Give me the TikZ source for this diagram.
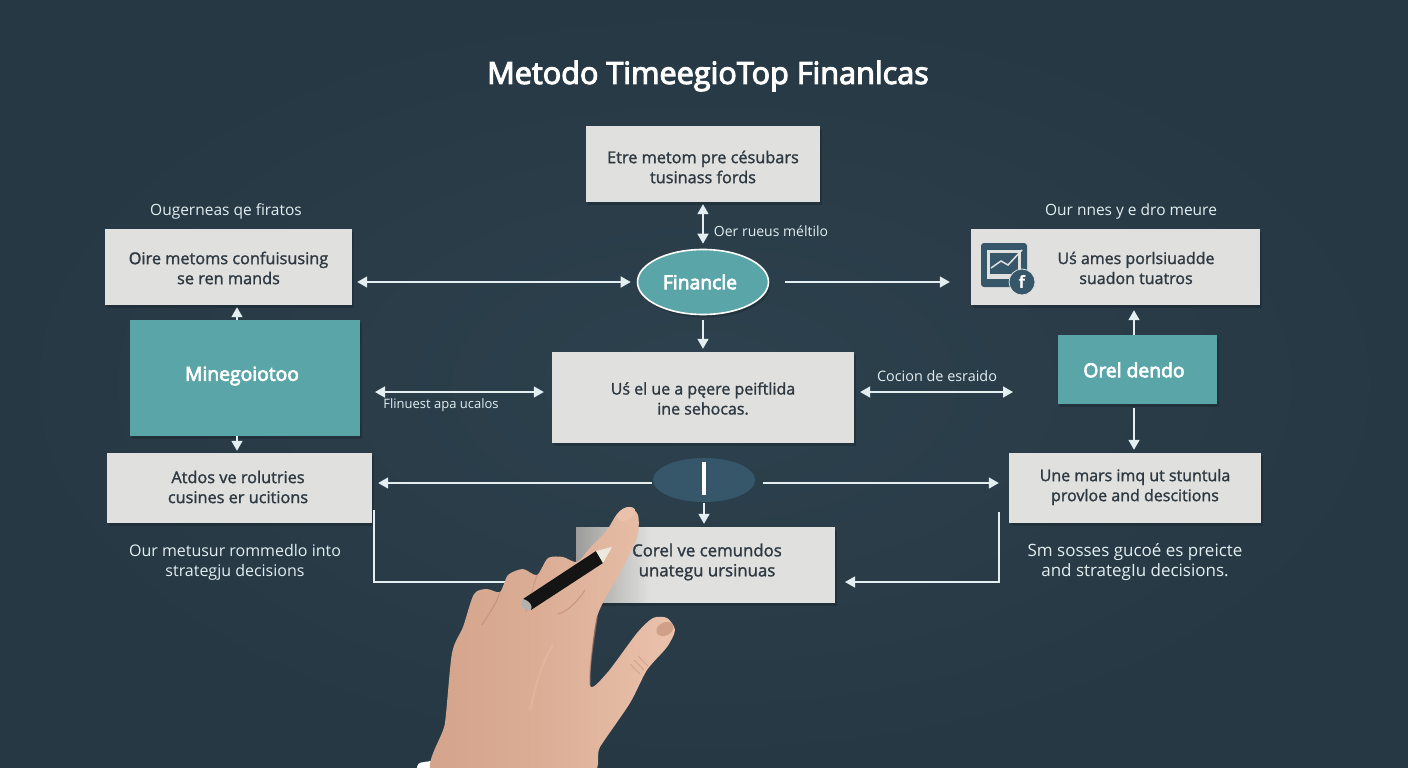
\documentclass[tikz,border=0pt]{standalone}
\usepackage{fontspec}
\usepackage{xcolor}
\setmainfont{Open Sans}
\newfontfamily\mediumfont[FakeBold=1.5]{Open Sans}
\newfontfamily\strongfont[FakeBold=3.5]{Open Sans}
\usetikzlibrary{arrows.meta, shapes.geometric, shadows, fadings, calc}
\definecolor{slatebg}{RGB}{45, 65, 78}
\definecolor{slateedge}{RGB}{38, 56, 67}
\definecolor{slatemid}{RGB}{54, 86, 106}
\definecolor{paneltone}{RGB}{224, 224, 222}
\definecolor{tealtone}{RGB}{90, 165, 168}
\definecolor{inktone}{RGB}{47, 57, 66}
\definecolor{linetone}{RGB}{226, 238, 240}
\definecolor{skintone}{RGB}{220, 174, 150}
\definecolor{skindark}{RGB}{190, 136, 112}
\definecolor{skinlight}{RGB}{234, 194, 172}
\definecolor{pentip}{RGB}{236, 233, 222}
\tikzset{
  softshadow/.style={drop shadow={shadow xshift=2pt, shadow yshift=-3pt, opacity=0.16, fill=black}},
  panel/.style={rectangle, fill=paneltone, inner sep=0pt, softshadow},
  paneltext/.style={text=inktone, align=center, inner sep=0pt, font=\mediumfont\fontsize{16.3}{20}\selectfont},
  tealpanel/.style={rectangle, fill=tealtone, inner sep=0pt, softshadow},
  tealtext/.style={text=white, inner sep=0pt, font=\strongfont\fontsize{19.3}{22}\selectfont},
  caption/.style={text=linetone, align=center, inner sep=0pt, font=\fontsize{15.5}{20}\selectfont},
  smallcaption/.style={text=linetone, align=center, inner sep=0pt, font=\fontsize{14}{15}\selectfont},
  link/.style={draw=linetone, line width=1.6pt},
  onearrow/.style={link, -{Triangle[length=10pt, width=11pt]}},
  twoarrow/.style={link, {Triangle[length=10pt, width=11pt]}-{Triangle[length=10pt, width=11pt]}},
}
\begin{document}
\begin{tikzpicture}[x=1pt, y=-1pt]
  \useasboundingbox (0,0) rectangle (1408,768);
  \shade[inner color=slatebg, outer color=slateedge] (0,0) rectangle (1408,768);

  \node[text=white, inner sep=0pt, font=\strongfont\fontsize{30.6}{34}\selectfont] (title) at (708,76) {Metodo TimeegioTop Finanlcas};

  \node[panel, minimum width=234pt, minimum height=76pt] (topbox) at (703,164) {};
  \node[paneltext] (toptext) at (703,167) {Etre metom pre césubars\\tusinass fords};
  \node[panel, minimum width=247pt, minimum height=76pt] (leftupper) at (228.5,267) {};
  \node[paneltext] (leftuppertext) at (228.5,268) {Oire metoms confuisusing\\se ren mands};
  \node[panel, minimum width=289pt, minimum height=76pt] (rightupper) at (1115.5,267) {};
  \node[paneltext, font=\mediumfont\fontsize{16}{20}\selectfont] (rightuppertext) at (1136,268) {Uś ames porlsiuadde\\suadon tuatros};
  \node[tealpanel, minimum width=230pt, minimum height=116pt] (tealleft) at (245,378) {};
  \node[tealtext] (tealleftname) at (242,376) {Minegoiotoo};
  \node[tealpanel, minimum width=159pt, minimum height=69pt] (tealright) at (1137.5,369.5) {};
  \node[tealtext] (tealrightname) at (1134,370) {Orel dendo};
  \node[panel, minimum width=302pt, minimum height=91pt] (middle) at (703,397.5) {};
  \node[paneltext, font=\mediumfont\fontsize{16}{20}\selectfont] (middletext) at (703,398.5) {Uś el ue a pęere peiftlida\\ine sehocas.};
  \node[panel, minimum width=265pt, minimum height=70pt] (leftlower) at (239.5,488) {};
  \node[paneltext] (leftlowertext) at (238,487) {Atdos ve rolutries\\cusines er ucitions};
  \node[panel, minimum width=252pt, minimum height=70pt] (rightlower) at (1135,488) {};
  \node[paneltext, font=\mediumfont\fontsize{16}{20}\selectfont] (rightlowertext) at (1135,487) {Une mars imq ut stuntula\\provloe and descitions};
  \node[panel, minimum width=259pt, minimum height=76pt] (bottombox) at (705.5,565) {};

  \node[ellipse, fill=tealtone, draw=white, line width=1.6pt, inner sep=0pt, softshadow,
    minimum width=131pt, minimum height=65pt] (finance) at (703,282) {};
  \node[tealtext] (financename) at (700,282) {Financle};
  \node[ellipse, fill=slatemid, inner sep=0pt, minimum width=102pt, minimum height=44pt] (hub) at (704,480) {};
  \draw[draw=white, line width=3.2pt] (hub.center) ++(0,-18) -- ++(0,33);

  \node[caption] (capleft) at (226,211) {Ougerneas qe firatos};
  \node[caption] (capright) at (1131,211) {Our nnes y e dro meure};
  \node[caption, font=\fontsize{16}{20}\selectfont] (noteleft) at (235,562) {Our metusur rommedlo into\\strategju decisions};
  \node[caption, font=\fontsize{17}{20}\selectfont] (noteright) at (1135,562) {Sm sosses gucoé es preicte\\and strategIu decisions.};
  \node[smallcaption] (labeltop) at (771,231) {Oer rueus méltilo};
  \node[smallcaption, font=\fontsize{13}{15}\selectfont] (labelleft) at (441,405) {Flinuest apa ucalos};
  \node[smallcaption, font=\fontsize{14.4}{15}\selectfont] (labelright) at (937,376) {Cocion de esraido};

  \coordinate (leftreach) at (375,392);
  \coordinate (rightreach) at (1013,392);
  \coordinate (hubline) at (704,483);
  \draw[twoarrow, shorten <=2pt, shorten >=5pt] (topbox.south) -- (finance.north);
  \draw[twoarrow, shorten <=5pt, shorten >=6pt] (leftupper.east |- finance.west) -- (finance.west);
  \draw[onearrow, shorten <=16pt, shorten >=21pt] (finance.east) -- (rightupper.west |- finance.east);
  \draw[onearrow, shorten <=5pt, shorten >=3pt] (finance.south) -- (middle.north);
  \draw[onearrow] ($(tealleft.north)+(-8,0)$) -- ($(leftupper.south)+(8.5,2)$);
  \draw[onearrow, shorten >=2pt] ($(tealleft.south)+(-8,0)$) -- ($(leftlower.north)+(-2.5,0)$);
  \draw[twoarrow, shorten >=8pt] (leftreach) -- (middle.west |- leftreach);
  \draw[twoarrow, shorten <=6pt] (middle.east |- rightreach) -- (rightreach);
  \draw[onearrow, shorten >=5pt] ($(tealright.north)+(-3.5,0)$) -- ($(rightupper.south)+(18.5,0)$);
  \draw[onearrow, shorten <=4pt, shorten >=3pt] ($(tealright.south)+(-3.5,0)$) -- ($(rightlower.north)+(-1,0)$);
  \draw[onearrow, shorten <=52pt, shorten >=6pt] (hubline) -- (leftlower.east |- hubline);
  \draw[onearrow, shorten <=59pt, shorten >=10pt] (hubline) -- (rightlower.west |- hubline);
  \draw[onearrow, shorten <=1pt, shorten >=3pt] (hub.south) -- (hub.south |- bottombox.north);

  \coordinate (leftstart) at (374,510);
  \coordinate (leftend) at (530,582);
  \coordinate (rightstart) at (999,512);
  \coordinate (rightend) at (845,582);
  \draw[link, line width=1.3pt] (leftstart) |- (leftend);
  \draw[onearrow, line width=1.3pt] (rightstart) |- (rightend);

  \fill[rounded corners=3pt, fill=slatemid] (981,243) rectangle (1027,287);
  \fill[paneltone] (987,250) rectangle (1021,279);
  \fill[slatemid] (990,253) rectangle (1018,274);
  \draw[paneltone, line width=1.5pt] (991,268) -- (1001,261) -- (1008,265) -- (1022,250);
  \node[circle, fill=slatemid, draw=paneltone, line width=0.8pt, text=white, inner sep=0pt, minimum size=26pt,
    font=\fontsize{17}{17}\selectfont\bfseries] (iconbadge) at (1022,282) {f};

  \fill[black, path fading=east, opacity=0.3] (576,527) rectangle (650,603);
  \node[paneltext, font=\mediumfont\fontsize{16.8}{20}\selectfont] (bottomtext) at (707,562) {Corel ve cemundos\\unategu ursinuas};

  \begin{scope}
    \clip (0,0) rectangle (1408,768);
    \fill[white, rounded corners=3pt] (418,763) -- (437,760) -- (442,772) -- (416,772) -- cycle;
    \shade[left color=skintone!70!skindark, right color=skinlight, middle color=skintone, draw=none]
      plot[smooth cycle, tension=0.45] coordinates {
        (436,776) (445,723) (452,653) (463,627) (474,594) (487,589) (500,592) (508,575) (523,569)
        (537,575) (548,558) (563,557) (577,562) (590,548) (607,530) (617,514) (628,507) (638,515) (637,537)
        (620,573) (597,617) (590,685) (607,673) (637,633) (653,618) (667,618) (675,630) (667,647)
        (647,670) (630,703) (600,747) (585,776)};
  \end{scope}
  \fill[skinlight, rotate around={-62:(626,514)}] (626,514) ellipse (6 and 10);
  \fill[skindark!60!skinlight, rotate around={-62:(665,629)}] (665,629) ellipse (6.5 and 9);
  \draw[skindark, line width=1pt, opacity=0.7] (500,592) .. controls (496,605) and (488,615) .. (482,625);
  \draw[skindark, line width=1pt, opacity=0.5] (537,575) .. controls (532,590) and (530,600) .. (526,612);
  \draw[skindark, line width=1.2pt, opacity=0.6] (585,590) .. controls (576,604) and (566,612) .. (558,614);
  \draw[skindark, line width=1.4pt, opacity=0.6] (590,685) .. controls (589,670) and (592,650) .. (597,617);
  \draw[skinlight, line width=2pt, opacity=0.35, line cap=round] (553,645) .. controls (540,665) and (535,690) .. (530,710);
  \draw[skindark, line width=0.8pt, opacity=0.5] (634,660) -- (644,670);
  \draw[skindark, line width=0.8pt, opacity=0.5] (638,656) -- (648,666);
  \draw[skindark, line width=0.8pt, opacity=0.5] (630,664) -- (640,674);

  \fill[black!92] (523,599) -- (596,551) -- (603,563) -- (531,610) -- cycle;
  \fill[pentip] (596,551) -- (612,547) -- (603,563) -- cycle;
  \fill[black!30!white] (523,599) .. controls (519,604) and (521,610) .. (531,610) .. controls (533,606) and (530,601) .. (523,599) -- cycle;
\end{tikzpicture}
\end{document}
